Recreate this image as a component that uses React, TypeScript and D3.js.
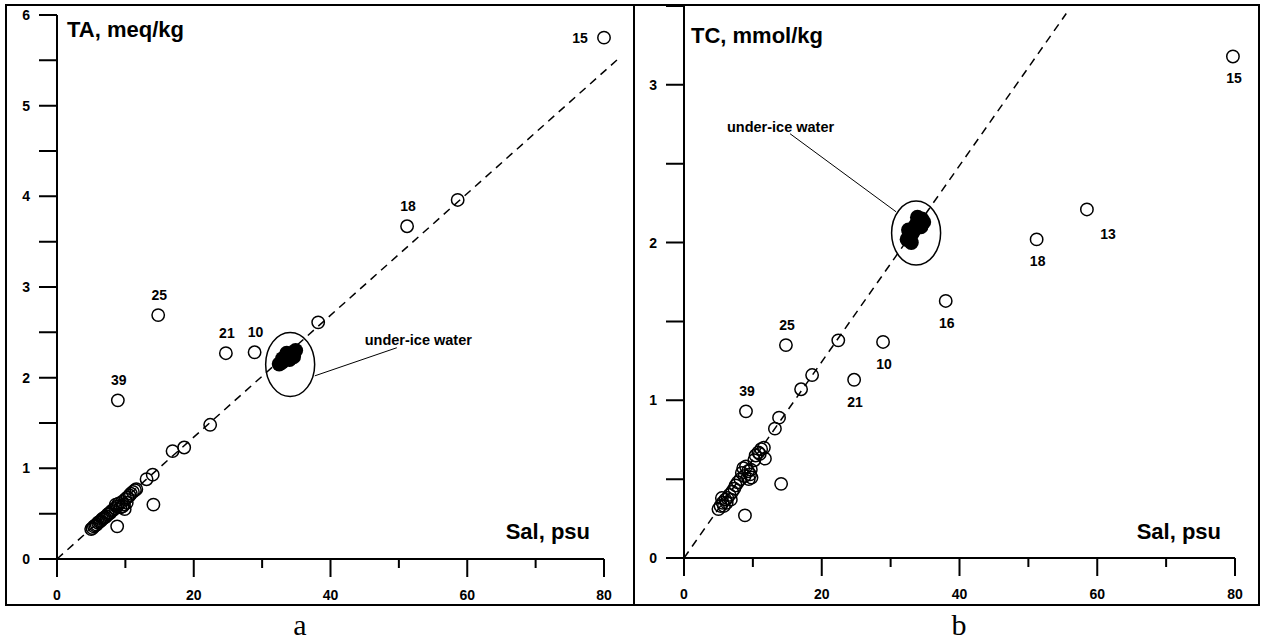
import * as d3 from 'd3'

const SANS = "'Liberation Sans', Arial, Helvetica, sans-serif"
const SERIF = "'Liberation Serif', 'Times New Roman', serif"

// * Panel a: TA (meq/kg) against salinity
const taPoints: [number, number][] = [
  [80, 5.75], [58.6, 3.96], [51.2, 3.67], [38.2, 2.61], [14.8, 2.69], [24.7, 2.27],
  [28.9, 2.28], [8.9, 1.75], [22.4, 1.48], [18.6, 1.23], [16.9, 1.19], [14.0, 0.93],
  [13.1, 0.88], [14.1, 0.6], [8.8, 0.36],
]
const taCluster: [number, number][] = [
  [5.0, 0.33], [5.2, 0.34], [5.4, 0.36], [5.6, 0.37], [5.8, 0.38], [6.0, 0.4], [6.2, 0.41],
  [6.4, 0.42], [6.6, 0.44], [6.8, 0.45], [7.0, 0.46], [7.2, 0.47], [7.4, 0.49], [7.6, 0.5],
  [7.8, 0.51], [8.0, 0.53], [8.2, 0.54], [8.5, 0.56], [8.8, 0.58], [8.6, 0.6], [9.0, 0.61],
  [9.3, 0.57], [9.6, 0.58], [9.8, 0.6], [9.5, 0.63], [10.0, 0.66], [10.3, 0.68], [10.6, 0.7],
  [10.8, 0.72], [11.1, 0.74], [11.4, 0.76], [11.6, 0.77], [10.2, 0.62], [9.9, 0.55],
]
const taIce: [number, number][] = [
  [32.5, 2.15], [32.9, 2.17], [33.3, 2.2], [33.7, 2.22], [34.1, 2.25], [34.5, 2.27],
  [34.9, 2.3], [33.0, 2.21], [34.0, 2.2], [33.6, 2.27], [34.6, 2.23],
]
const taLabels = [
  { id: '15', s: 80, v: 5.75, place: 'left' },
  { id: '18', s: 51.2, v: 3.67, place: 'above' },
  { id: '25', s: 14.8, v: 2.69, place: 'above' },
  { id: '21', s: 24.7, v: 2.27, place: 'above' },
  { id: '10', s: 28.9, v: 2.28, place: 'above' },
  { id: '39', s: 8.9, v: 1.75, place: 'above' },
]
const taTicks = [0, 1, 2, 3, 4, 5, 6]
const taMinor = [0.5, 1.5, 2.5, 3.5, 4.5, 5.5]

// * Panel b: TC (mmol/kg) against salinity
const tcPoints: [number, number][] = [
  [79.7, 3.18], [58.5, 2.21], [51.2, 2.02], [38.0, 1.63], [28.9, 1.37], [24.7, 1.13],
  [22.4, 1.38], [14.8, 1.35], [9.0, 0.93], [18.6, 1.16], [17.0, 1.07], [13.8, 0.89],
  [13.2, 0.82], [14.1, 0.47], [8.85, 0.27],
]
const tcCluster: [number, number][] = [
  [10.4, 0.65], [10.8, 0.67], [11.2, 0.69], [11.6, 0.7], [11.0, 0.66], [11.75, 0.63], [10.2, 0.62],
  [8.6, 0.57], [9.0, 0.58], [9.3, 0.55], [9.6, 0.53], [9.8, 0.51], [9.4, 0.5], [8.8, 0.52],
  [8.2, 0.5], [7.8, 0.48], [7.5, 0.46], [8.4, 0.54], [9.7, 0.56], [5.0, 0.31], [5.3, 0.33],
  [5.6, 0.35], [6.0, 0.37], [6.3, 0.38], [6.6, 0.4], [7.0, 0.42], [7.3, 0.44], [5.8, 0.33],
  [6.2, 0.35], [5.5, 0.38], [6.8, 0.37],
]
const tcIce: [number, number][] = [
  [32.4, 2.02], [32.7, 2.04], [33.0, 2.05], [33.3, 2.07], [32.6, 2.08], [33.5, 2.1], [33.8, 2.12],
  [34.1, 2.14], [34.5, 2.15], [34.8, 2.13], [34.4, 2.1], [33.9, 2.16], [33.0, 2.0],
]
const tcLabels = [
  { id: '15', s: 79.7, v: 3.18, place: 'below' },
  { id: '13', s: 58.5, v: 2.21, place: 'belowRight' },
  { id: '18', s: 51.2, v: 2.02, place: 'below' },
  { id: '16', s: 38.0, v: 1.63, place: 'below' },
  { id: '10', s: 28.9, v: 1.37, place: 'below' },
  { id: '21', s: 24.7, v: 1.13, place: 'below' },
  { id: '25', s: 14.8, v: 1.35, place: 'above' },
  { id: '39', s: 9.0, v: 0.93, place: 'above' },
]
const tcTicks = [0, 1, 2, 3]
const tcMinor = [0.5, 1.5, 2.5, 3.5]

const salMajor = [0, 20, 40, 60, 80]
const salMinor = [10, 30, 50, 70]

const offsets: Record<string, [number, number, string]> = {
  above: [1, -15, 'middle'],
  below: [1, 27, 'middle'],
  belowRight: [21, 30, 'middle'],
  left: [-24, 5, 'middle'],
}

interface PanelProps {
  box: [number, number, number, number]
  xr: [number, number]
  yr: [number, number]
  yMax: number
  yTicks: number[]
  yMinor: number[]
  points: [number, number][]
  cluster: [number, number][]
  ice: [number, number][]
  labels: { id: string; s: number; v: number; place: string }[]
  slope: number
  lineTo: number
  ell: { s: number; v: number }
  note: { s: number; v: number; from: [number, number]; to: [number, number] }
  title: string
  titleAt: [number, number]
  letter: string
  letterX: number
}

function Panel(p: PanelProps) {
  const x = d3.scaleLinear().domain([0, 80]).range(p.xr)
  const y = d3.scaleLinear().domain([0, p.yMax]).range(p.yr)
  const y0 = y(0)
  const x0 = x(0)
  const len = 18

  // * axis lines + tick marks in one path
  const ax = d3.path()
  ax.moveTo(x0 - len, y0); ax.lineTo(x(80), y0)
  ax.moveTo(x0, y(p.yMax)); ax.lineTo(x0, y0)
  salMajor.forEach((d) => { ax.moveTo(x(d), y0); ax.lineTo(x(d), y0 + len) })
  salMinor.forEach((d) => { ax.moveTo(x(d), y0); ax.lineTo(x(d), y0 + 9) })
  p.yTicks.concat(p.yMinor).forEach((d) => { ax.moveTo(x0 - len, y(d)); ax.lineTo(x0, y(d)) })

  return (
    <g>
      <rect x={p.box[0]} y={p.box[1]} width={p.box[2]} height={p.box[3]} fill="none" stroke="#000" strokeWidth={2} />
      <path d={ax.toString()} fill="none" stroke="#000" strokeWidth={2} />
      {salMajor.map((d) => (
        <text key={'xl' + d} x={x(d)} y={y0 + 41} textAnchor="middle" fontFamily={SANS} fontWeight="bold" fontSize={14}>{d}</text>
      ))}
      {p.yTicks.map((d) => (
        <text key={'yl' + d} x={x0 - 27} y={y(d) + 5} textAnchor="end" fontFamily={SANS} fontWeight="bold" fontSize={14}>{d}</text>
      ))}
      {/* dilution line */}
      <line x1={x(0)} y1={y(0)} x2={x(p.lineTo)} y2={y(p.lineTo * p.slope)} stroke="#000" strokeWidth={1.5} strokeDasharray="8,6" />
      {/* under-ice water */}
      <ellipse cx={x(p.ell.s)} cy={y(p.ell.v)} rx={24.5} ry={32} fill="none" stroke="#000" strokeWidth={1.5} />
      {p.ice.map((d, i) => (
        <circle key={'ice' + i} cx={x(d[0])} cy={y(d[1])} r={7.5} fill="#000" />
      ))}
      <line x1={x(p.note.from[0])} y1={y(p.note.from[1])} x2={x(p.note.to[0])} y2={y(p.note.to[1])} stroke="#000" strokeWidth={1} />
      <text x={x(p.note.s)} y={y(p.note.v)} fontFamily={SANS} fontWeight="bold" fontSize={14.5}>under-ice water</text>
      {p.cluster.concat(p.points).map((d, i) => (
        <circle key={'pt' + i} cx={x(d[0])} cy={y(d[1])} r={6.2} fill="none" stroke="#000" strokeWidth={1.5} />
      ))}
      {p.labels.map((l) => {
        const o = offsets[l.place]
        return (
          <text key={'lb' + l.id} x={x(l.s) + o[0]} y={y(l.v) + o[1]} textAnchor={o[2]} fontFamily={SANS} fontWeight="bold" fontSize={14}>{l.id}</text>
        )
      })}
      <text x={p.titleAt[0]} y={p.titleAt[1]} fontFamily={SANS} fontWeight="bold" fontSize={22}>{p.title}</text>
      <text x={x(80) - 14} y={539} textAnchor="end" fontFamily={SANS} fontWeight="bold" fontSize={22}>Sal, psu</text>
      <text x={p.letterX} y={635} textAnchor="middle" fontFamily={SERIF} fontSize={30}>{p.letter}</text>
    </g>
  )
}

export default function App() {
  return (
    <svg width={1270} height={641} style={{ position: 'absolute', left: 0, top: 0, background: '#fff' }}>
      <rect width={1270} height={641} fill="#fff" />
      <Panel
        box={[6, 5, 628, 600]} xr={[57, 604]} yr={[559, 15]} yMax={6}
        yTicks={taTicks} yMinor={taMinor} points={taPoints} cluster={taCluster} ice={taIce}
        labels={taLabels} slope={0.0672} lineTo={82.5}
        ell={{ s: 34.1, v: 2.145 }}
        note={{ s: 45.0, v: 2.36, from: [37.7, 2.02], to: [49.7, 2.33] }}
        title="TA, meq/kg" titleAt={[67, 37]} letter="a" letterX={300}
      />
      <Panel
        box={[634, 5, 625, 600]} xr={[684, 1235]} yr={[558, 6]} yMax={3.5}
        yTicks={tcTicks} yMinor={tcMinor} points={tcPoints} cluster={tcCluster} ice={tcIce}
        labels={tcLabels} slope={0.0622} lineTo={55.5}
        ell={{ s: 33.7, v: 2.06 }}
        note={{ s: 6.24, v: 2.7, from: [15.4, 2.69], to: [30.8, 2.195] }}
        title="TC, mmol/kg" titleAt={[691, 43]} letter="b" letterX={959}
      />
    </svg>
  )
}
